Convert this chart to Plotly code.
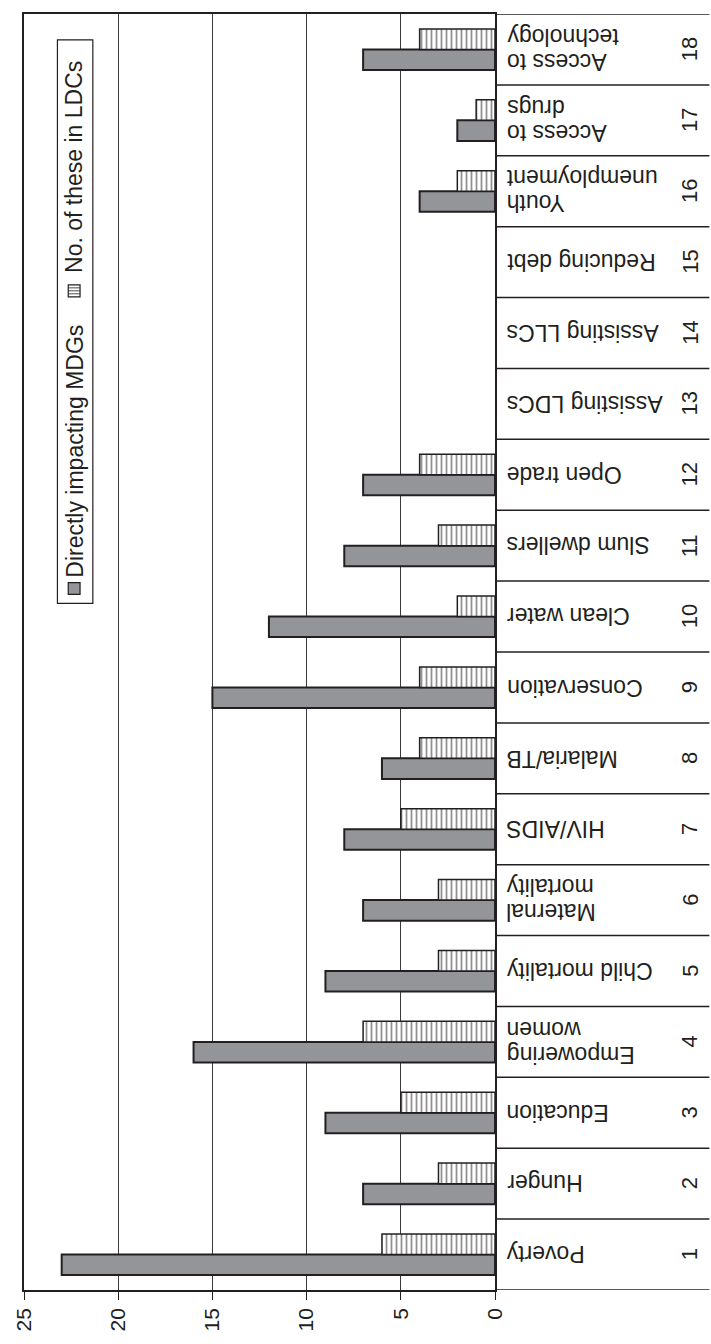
import plotly.graph_objects as go

# ---------------- data ----------------
numbers = list(range(1, 19))
names = ["Poverty", "Hunger", "Education", "Empowering<br>women", "Child mortality",
         "Maternal<br>mortality", "HIV/AIDS", "Malaria/TB", "Conservation", "Clean water",
         "Slum dwellers", "Open trade", "Assisting LDCs", "Assisting LLCs", "Reducing debt",
         "Youth<br>unemployment", "Access to<br>drugs", "Access to<br>technology"]
direct_mdgs = [23, 7, 9, 16, 9, 7, 8, 6, 15, 12, 8, 7, 0, 0, 0, 4, 2, 7]
in_ldcs = [6, 3, 5, 7, 3, 3, 5, 4, 4, 2, 3, 4, 0, 0, 0, 2, 1, 4]
value_ticks = [0, 5, 10, 15, 20, 25]
series_names = ["Directly impacting MDGs", "No. of these in LDCs"]

# ---------------- layout constants ----------------
W, H = 711, 1344
L_PX, R_PX, T_PX, B_PX = 16, 495, 12, 1298
PW, PH = R_PX - L_PX, B_PX - T_PX
INK = "#231f20"
GRAY = "#939598"
FONT = "Liberation Sans, Arial, sans-serif"


def px(x):
    return (x - L_PX) / PW


def py(y):
    return (B_PX - y) / PH


fig = go.Figure()
fig.add_trace(go.Bar(
    y=numbers, x=direct_mdgs, orientation="h", name=series_names[0],
    marker=dict(color=GRAY, line=dict(color=INK, width=[2 if v > 0 else 0 for v in direct_mdgs])),
))
fig.add_trace(go.Bar(
    y=numbers, x=in_ldcs, orientation="h", name=series_names[1],
    marker=dict(color="white", line=dict(color=INK, width=[1.5 if v > 0 else 0 for v in in_ldcs]),
                pattern=dict(shape="|", fgcolor=INK, bgcolor="white", size=5, solidity=0.35)),
))

shapes = []
right_edge = px(W + 2)
# category separators across label region
for k in range(0, 19):
    shapes.append(dict(type="line", xref="paper", yref="y", x0=1, x1=right_edge,
                       y0=k + 0.5, y1=k + 0.5, line=dict(color=INK, width=1.5)))

annotations = []
LINE_SP = 25
for num, name in zip(numbers, names):
    lines = name.split("<br>")
    n = len(lines)
    for j, ln in enumerate(lines):
        annotations.append(dict(
            xref="paper", yref="y", x=px(505), y=num, xanchor="left", yanchor="middle",
            text=ln, textangle=180, showarrow=False,
            yshift=-((n - 1) / 2 - j) * LINE_SP,
            font=dict(family=FONT, size=23, color=INK)))
    annotations.append(dict(
        xref="paper", yref="y", x=px(693), y=num, xanchor="center", yanchor="middle",
        text=str(num), textangle=-90, showarrow=False,
        font=dict(family=FONT, size=22, color=INK)))

# ---------------- manual rotated legend ----------------
leg_x0, leg_x1, leg_y0, leg_y1 = 50, 86, 38, 606
shapes.append(dict(type="rect", xref="paper", yref="paper",
                   x0=px(leg_x0), x1=px(leg_x1), y0=py(leg_y1), y1=py(leg_y0),
                   fillcolor="white", line=dict(color=INK, width=1.2), layer="above"))
# symbol 1 (gray)
shapes.append(dict(type="rect", xref="paper", yref="paper",
                   x0=px(61), x1=px(73), y0=py(597), y1=py(585),
                   fillcolor=GRAY, line=dict(color=INK, width=1.2), layer="above"))
# symbol 2 (hatched)
shapes.append(dict(type="rect", xref="paper", yref="paper",
                   x0=px(61), x1=px(73), y0=py(297), y1=py(285),
                   fillcolor="white", line=dict(color=INK, width=1.2), layer="above"))
for yy in (288, 291, 294):
    shapes.append(dict(type="line", xref="paper", yref="paper",
                       x0=px(61), x1=px(73), y0=py(yy), y1=py(yy),
                       line=dict(color=INK, width=0.8), layer="above"))

annotations.append(dict(xref="paper", yref="paper", x=px(67), y=py(453), xanchor="center",
                        yanchor="middle", text=series_names[0], textangle=-90, showarrow=False,
                        font=dict(family=FONT, size=23, color=INK)))
annotations.append(dict(xref="paper", yref="paper", x=px(67), y=py(166), xanchor="center",
                        yanchor="middle", text=series_names[1], textangle=-90, showarrow=False,
                        font=dict(family=FONT, size=23, color=INK)))

fig.update_layout(
    width=W, height=H,
    margin=dict(l=L_PX, r=W - R_PX, t=T_PX, b=H - B_PX, pad=0),
    paper_bgcolor="white", plot_bgcolor="white",
    barmode="group", bargap=0.42, bargroupgap=0,
    showlegend=False,
    shapes=shapes, annotations=annotations,
    font=dict(family=FONT, color=INK),
)
fig.update_xaxes(
    range=[25, 0], tickvals=value_ticks, ticktext=[str(v) for v in value_ticks],
    showgrid=True, gridcolor="#3a3a3a", gridwidth=1, zeroline=False,
    ticks="outside", ticklen=8, tickcolor=INK, tickwidth=1.2, tickangle=-90,
    tickfont=dict(family=FONT, size=21, color=INK),
    showline=True, linecolor=INK, linewidth=1.5, mirror=True,
)
fig.update_yaxes(
    range=[0.5, 18.5], showticklabels=False, showgrid=False, zeroline=False,
    ticks="", showline=True, linecolor=INK, linewidth=1.5, mirror=True,
)

fig.write_html(
    "out.html",
    config={"displayModeBar": False},
    post_script="document.body.style.margin='0';document.body.style.overflow='hidden';",
)
